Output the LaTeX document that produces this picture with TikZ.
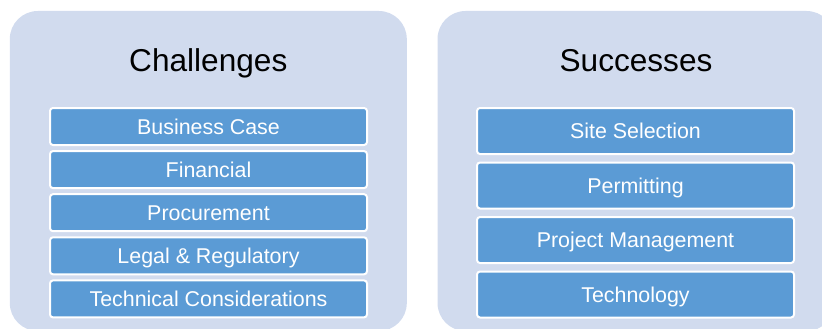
\documentclass[tikz,border=0pt]{standalone}
\usepackage{fontspec}
\setmainfont{Liberation Sans}
\definecolor{panelfill}{RGB}{209,219,238}
\definecolor{itemfill}{RGB}{91,155,213}
\begin{document}
\begin{tikzpicture}[x=1pt,y=-1pt,
  panel/.style={fill=panelfill, draw=none, rounded corners=28pt,
    minimum width=397pt, minimum height=320pt, inner sep=0pt},
  heading/.style={anchor=base, font=\fontsize{31.6}{36}\selectfont, text=black, inner sep=0pt},
  item/.style={fill=itemfill, draw=white, line width=2pt, rounded corners=3pt,
    minimum width=317pt, inner sep=0pt, text=white,
    font=\fontsize{21.4}{24}\selectfont, text height=15.3pt, text depth=0pt},
  leftitem/.style={item, minimum height=37pt},
  rightitem/.style={item, minimum height=46pt}]
  \clip (0,0) rectangle (822,329);

  % the two background panels
  \node[panel] (left)  at (208.3,171) {};
  \node[panel] (right) at (636,171) {};

  % headings
  \node[heading] (chal) at (208.3,71) {Challenges};
  \node[heading] (succ) at (636,71) {Successes};

  % challenge items
  \node[leftitem] (c1) at (208.5,126.5) {Business Case};
  \node[leftitem] (c2) at (208.5,169.6) {Financial};
  \node[leftitem] (c3) at (208.5,212.7) {Procurement};
  \node[leftitem] (c4) at (208.5,255.8) {Legal \& Regulatory};
  \node[leftitem] (c5) at (208.5,298.9) {Technical Considerations};

  % success items
  \node[rightitem] (s1) at (635.5,131) {Site Selection};
  \node[rightitem] (s2) at (635.5,185.5) {Permitting};
  \node[rightitem] (s3) at (635.5,240) {Project Management};
  \node[rightitem] (s4) at (635.5,294.5) {Technology};
\end{tikzpicture}
\end{document}
